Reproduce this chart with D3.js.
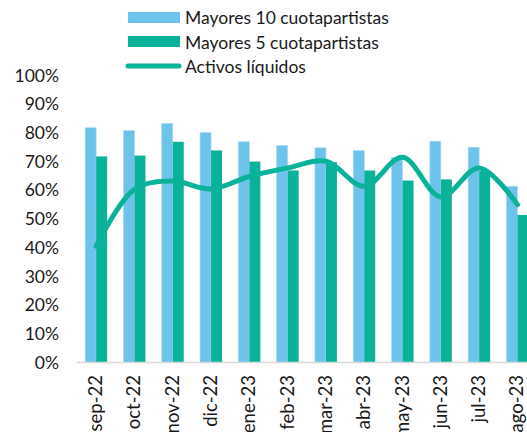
<!DOCTYPE html>
<html>
<head>
<meta charset="utf-8">
<script src="https://cdn.jsdelivr.net/npm/d3@7"></script>
<style>
  body { margin: 0; background: #fff; }
  svg { display: block; font-family: Lato, "Open Sans", sans-serif; }
</style>
</head>
<body>
<div id="chart"></div>
<script>
// data
var months = ["sep-22", "oct-22", "nov-22", "dic-22", "ene-23", "feb-23",
              "mar-23", "abr-23", "may-23", "jun-23", "jul-23", "ago-23"];
var top10 = [81.8, 80.8, 83.3, 80.1, 76.9, 75.6, 74.8, 73.9, 71.5, 77.1, 75.0, 61.4];
var top5 = [71.8, 72.1, 76.9, 73.9, 70.0, 66.9, 69.8, 66.9, 63.4, 63.8, 66.7, 51.4];
var liquidos = [40.5, 60.3, 63.2, 60.5, 64.8, 67.8, 70.1, 61.4, 71.5, 57.7, 67.8, 55.0];
var yTicks = [0, 10, 20, 30, 40, 50, 60, 70, 80, 90, 100];

var width = 527;
var height = 432;

var lightBlue = "#6dc3ea";
var teal = "#0bb29a";

var svg = d3.select("#chart")
  .append("svg")
  .attr("width", width)
  .attr("height", height);

// plot area
var left = 77, bandW = 38.3;
var bottom = 362.5, topY = 75.5;

var xScale = d3.scaleBand()
  .domain(months)
  .range([left, left + bandW * months.length])
  .paddingInner(0)
  .paddingOuter(0);

var yScale = d3.scaleLinear()
  .domain([0, 100])
  .range([bottom, topY]);

// y tick labels
svg.append("g")
  .selectAll("text")
  .data(yTicks)
  .enter()
  .append("text")
  .attr("x", 59)
  .attr("y", function(d){ return yScale(d); })
  .attr("dy", "0.35em")
  .attr("text-anchor", "end")
  .attr("font-size", 17.5)
  .attr("fill", "#1a1a1a")
  .text(function(d){ return d + "%"; });

// bars
var barW = 11;
var groups = svg.append("g")
  .selectAll("g")
  .data(months)
  .enter()
  .append("g");

groups.append("rect")
  .attr("x", function(d){ return xScale(d) + xScale.bandwidth() / 2 - barW; })
  .attr("y", function(d, i){ return yScale(top10[i]); })
  .attr("width", barW)
  .attr("height", function(d, i){ return bottom - yScale(top10[i]); })
  .attr("fill", lightBlue)
  .attr("stroke", "#a6daf2")
  .attr("stroke-width", 0.6);

groups.append("rect")
  .attr("x", function(d){ return xScale(d) + xScale.bandwidth() / 2; })
  .attr("y", function(d, i){ return yScale(top5[i]); })
  .attr("width", barW)
  .attr("height", function(d, i){ return bottom - yScale(top5[i]); })
  .attr("fill", teal);

// x axis line
svg.append("line")
  .attr("x1", left)
  .attr("x2", width)
  .attr("y1", bottom)
  .attr("y2", bottom)
  .attr("stroke", "#d9d9d9")
  .attr("stroke-width", 1.5);

// smooth line
var line = d3.line()
  .x(function(d, i){ return xScale(months[i]) + xScale.bandwidth() / 2; })
  .y(function(d){ return yScale(d); })
  .curve(d3.curveCatmullRom.alpha(0.5));

svg.append("path")
  .datum(liquidos)
  .attr("d", line)
  .attr("fill", "none")
  .attr("stroke", teal)
  .attr("stroke-width", 5)
  .attr("stroke-linecap", "round");

// x labels, rotated
svg.append("g")
  .selectAll("text")
  .data(months)
  .enter()
  .append("text")
  .attr("transform", function(d){
    return "translate(" + (xScale(d) + xScale.bandwidth() / 2 + 6) + ",375) rotate(-90)";
  })
  .attr("text-anchor", "end")
  .attr("font-size", 18.5)
  .attr("fill", "#1a1a1a")
  .text(function(d){ return d; });

// legend
var legend = svg.append("g");
legend.append("rect").attr("x", 128).attr("y", 12).attr("width", 52).attr("height", 11).attr("fill", lightBlue);
legend.append("rect").attr("x", 128).attr("y", 36).attr("width", 52).attr("height", 11).attr("fill", teal);
legend.append("line").attr("x1", 128).attr("x2", 179).attr("y1", 66).attr("y2", 66)
  .attr("stroke", teal).attr("stroke-width", 5).attr("stroke-linecap", "round");

var legendText = ["Mayores 10 cuotapartistas", "Mayores 5 cuotapartistas", "Activos líquidos"];
legend.selectAll("text")
  .data(legendText)
  .enter()
  .append("text")
  .attr("x", 185)
  .attr("y", function(d, i){ return 24 + i * 24.5; })
  .attr("font-size", 17.5)
  .attr("fill", "#1a1a1a")
  .text(function(d){ return d; });
</script>
</body>
</html>
